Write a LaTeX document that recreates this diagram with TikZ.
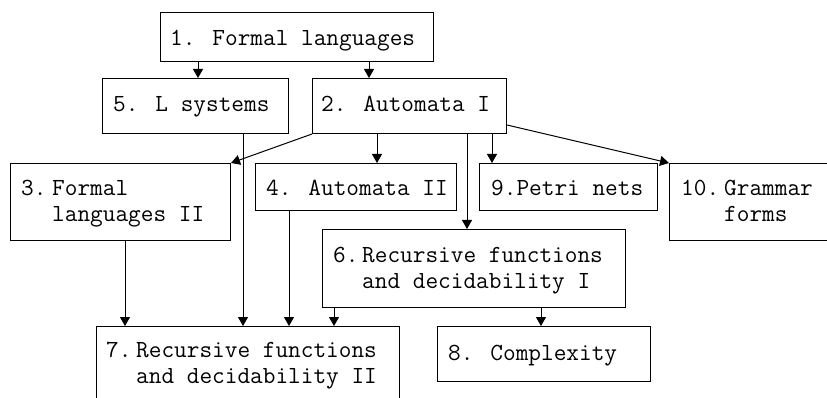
\documentclass[tikz,border=0pt]{standalone}
\usepackage{fontspec}
\usetikzlibrary{arrows.meta}
\begin{document}
\begin{tikzpicture}[x=1pt,y=-1pt,
  box/.style={draw=black,line width=1pt,rectangle,inner sep=0pt,anchor=north west},
  txt/.style={inner sep=0pt,anchor=base west,font=\ttfamily\fontsize{24.6}{26}\selectfont},
  arr/.style={draw=black,line width=1pt,-{Triangle[width=10pt,length=9pt]}}]
\clip (0,0) rectangle (827,398);
\fill[white] (0,0) rectangle (827,398);
% boxes
\node[box,minimum width=273pt,minimum height=49pt] (b1) at (160,12) {};
\node[box,minimum width=186pt,minimum height=55pt] (b5) at (102,78) {};
\node[box,minimum width=194pt,minimum height=55pt] (b2) at (312,78) {};
\node[box,minimum width=220pt,minimum height=77pt] (b3) at (10,163) {};
\node[box,minimum width=201pt,minimum height=47pt] (b4) at (255,163) {};
\node[box,minimum width=178pt,minimum height=47pt] (b9) at (479,163) {};
\node[box,minimum width=180pt,minimum height=77pt] (b10) at (669,163) {};
\node[box,minimum width=303pt,minimum height=78pt] (b6) at (322,229) {};
\node[box,minimum width=303pt,minimum height=90pt] (b7) at (96,326) {};
\node[box,minimum width=213pt,minimum height=55pt] (b8) at (437,326) {};
% texts
\node[txt] (t1) at (170,46) {1. Formal languages};
\node[txt] (t5) at (113,112) {5. L systems};
\node[txt] (t2) at (321,112) {2. Automata I};
\node[txt] (t3a) at (21,196) {3.};
\node[txt] (t3b) at (52,196) {Formal};
\node[txt] (t3c) at (52,222) {languages II};
\node[txt] (t4) at (266,196) {4. Automata II};
\node[txt] (t9) at (491,196) {9.Petri nets};
\node[txt] (t10a) at (681,196) {10.};
\node[txt] (t10b) at (724,196) {Grammar};
\node[txt] (t10c) at (724,222) {forms};
\node[txt] (t6a) at (333,262) {6.};
\node[txt] (t6b) at (362,262) {Recursive functions};
\node[txt] (t6c) at (362,288) {and decidability I};
\node[txt] (t7a) at (106,357) {7.};
\node[txt] (t7b) at (136,357) {Recursive functions};
\node[txt] (t7c) at (136,383) {and decidability II};
\node[txt] (t8) at (448,360) {8. Complexity};
% column coordinates
\coordinate (c198) at (198,0);
\coordinate (c369) at (369,0);
\coordinate (c377) at (377,0);
\coordinate (c467) at (467,0);
\coordinate (c492) at (492,0);
\coordinate (c243) at (243,0);
\coordinate (c125) at (125,0);
\coordinate (c289) at (289,0);
\coordinate (c334) at (334,0);
\coordinate (c541) at (541,0);
% connectors
\draw[arr] (b1.south -| c198) -- (b5.north -| c198);
\draw[arr] (b1.south -| c369) -- (b2.north -| c369);
\draw[arr] (b2.south west) -- (b3.north east);
\draw[arr] (b2.south -| c377) -- (b4.north -| c377);
\draw[arr] (b2.south -| c467) -- (b6.north -| c467);
\draw[arr] (b2.south -| c492) -- (b9.north -| c492);
\draw[arr] ([yshift=9pt]b2.south east) -- (b10.north west);
\draw[arr] (b5.south -| c243) -- (b7.north -| c243);
\draw[arr] (b3.south -| c125) -- (b7.north -| c125);
\draw[arr] (b4.south -| c289) -- (b7.north -| c289);
\draw[arr] (b6.south -| c334) -- (b7.north -| c334);
\draw[arr] (b6.south -| c541) -- (b8.north -| c541);
\end{tikzpicture}
\end{document}
